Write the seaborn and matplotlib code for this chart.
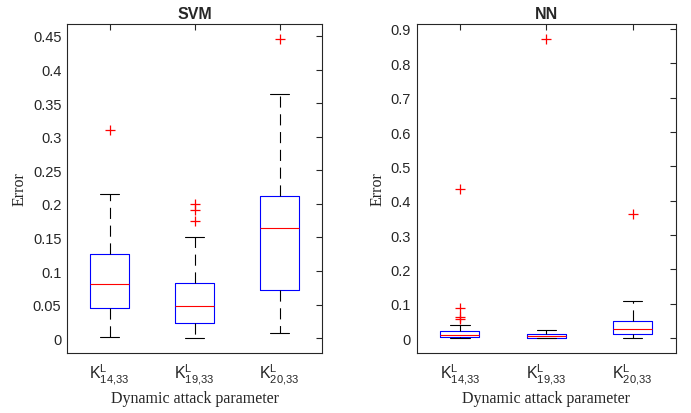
import matplotlib
matplotlib.use("Agg")
import matplotlib.pyplot as plt
import numpy as np
import pandas as pd
import seaborn as sns

# tick labels for the three attack parameters
labels = [r"$\mathregular{K^L_{14{,}33}}$", r"$\mathregular{K^L_{19{,}33}}$", r"$\mathregular{K^L_{20{,}33}}$"]

# SVM error samples (quartiles, whiskers, outliers)
svm_k14 = [0.002, 0.02, 0.045, 0.06, 0.08, 0.10, 0.125, 0.214, 0.31]
svm_k19 = [0.0, 0.005, 0.01, 0.016, 0.022, 0.028, 0.035, 0.04, 0.048, 0.055,
           0.062, 0.07, 0.082, 0.15, 0.174, 0.191, 0.2]
svm_k20 = [0.008, 0.04, 0.072, 0.12, 0.164, 0.19, 0.212, 0.363, 0.445]

# NN error samples
nn_k14 = [0.0, 0.0, 0.001, 0.001, 0.002, 0.003, 0.004, 0.005, 0.007, 0.008, 0.01,
          0.012, 0.014, 0.016, 0.018, 0.02, 0.038, 0.055, 0.062, 0.088, 0.435]
nn_k19 = [0.0, 0.0005, 0.001, 0.003, 0.005, 0.008, 0.011, 0.023, 0.87]
nn_k20 = [0.0, 0.006, 0.012, 0.02, 0.028, 0.04, 0.051, 0.107, 0.362]


def to_long(groups):
    rows = []
    for lab, vals in zip(labels, groups):
        for v in vals:
            rows.append((lab, v))
    return pd.DataFrame(rows, columns=["param", "err"])


df_svm = to_long([svm_k14, svm_k19, svm_k20])
df_nn = to_long([nn_k14, nn_k19, nn_k20])

sns.set_style("white")
plt.rcParams["font.family"] = ["Liberation Sans", "DejaVu Sans"]
plt.rcParams["mathtext.fontset"] = "custom"
plt.rcParams["mathtext.rm"] = "Liberation Sans"

fig = plt.figure(figsize=(6.91, 4.14), dpi=100)
ax1 = fig.add_axes([0.097, 0.145, 0.369, 0.795])
ax2 = fig.add_axes([0.603, 0.145, 0.375, 0.795])

edge = "#262626"
box_kw = dict(
    width=0.45, fill=False, color="blue", linewidth=0.8,
    medianprops=dict(color="red", linewidth=0.8),
    whiskerprops=dict(color="black", linestyle=(0, (10, 6)), linewidth=0.8),
    capprops=dict(color="black", linewidth=0.8),
    flierprops=dict(marker="+", markeredgecolor="red", markersize=7, markeredgewidth=0.9),
)

panels = [(ax1, df_svm, "SVM", (-0.022, 0.468), np.arange(0, 0.451, 0.05)),
          (ax2, df_nn, "NN", (-0.043, 0.915), np.arange(0, 0.91, 0.1))]

for ax, df, title, ylim, yt in panels:
    sns.boxplot(data=df, x="param", y="err", order=labels, ax=ax, **box_kw)
    ax.set_xlim(-0.5, 2.5)
    ax.set_ylim(*ylim)
    ax.set_yticks(yt)
    ax.set_yticklabels([("%g" % round(t, 2)) for t in yt])
    ax.set_title(title, fontsize=11.5, fontweight="bold", pad=4)
    ax.set_xlabel("Dynamic attack parameter", family="Liberation Serif", fontsize=11.5,
                  color=edge, labelpad=3)
    ax.set_ylabel("Error", family="Liberation Serif", fontsize=11.5, color=edge, labelpad=4)
    ax.tick_params(direction="in", length=4, width=0.8, top=True, right=True,
                   labelsize=10.5, colors=edge, labelcolor=edge, pad=4)
    ax.tick_params(axis="x", labelsize=11.5, pad=6)
    for sp in ax.spines.values():
        sp.set_visible(True)
        sp.set_color(edge)
        sp.set_linewidth(0.8)

fig.savefig("out.png", dpi=100)
